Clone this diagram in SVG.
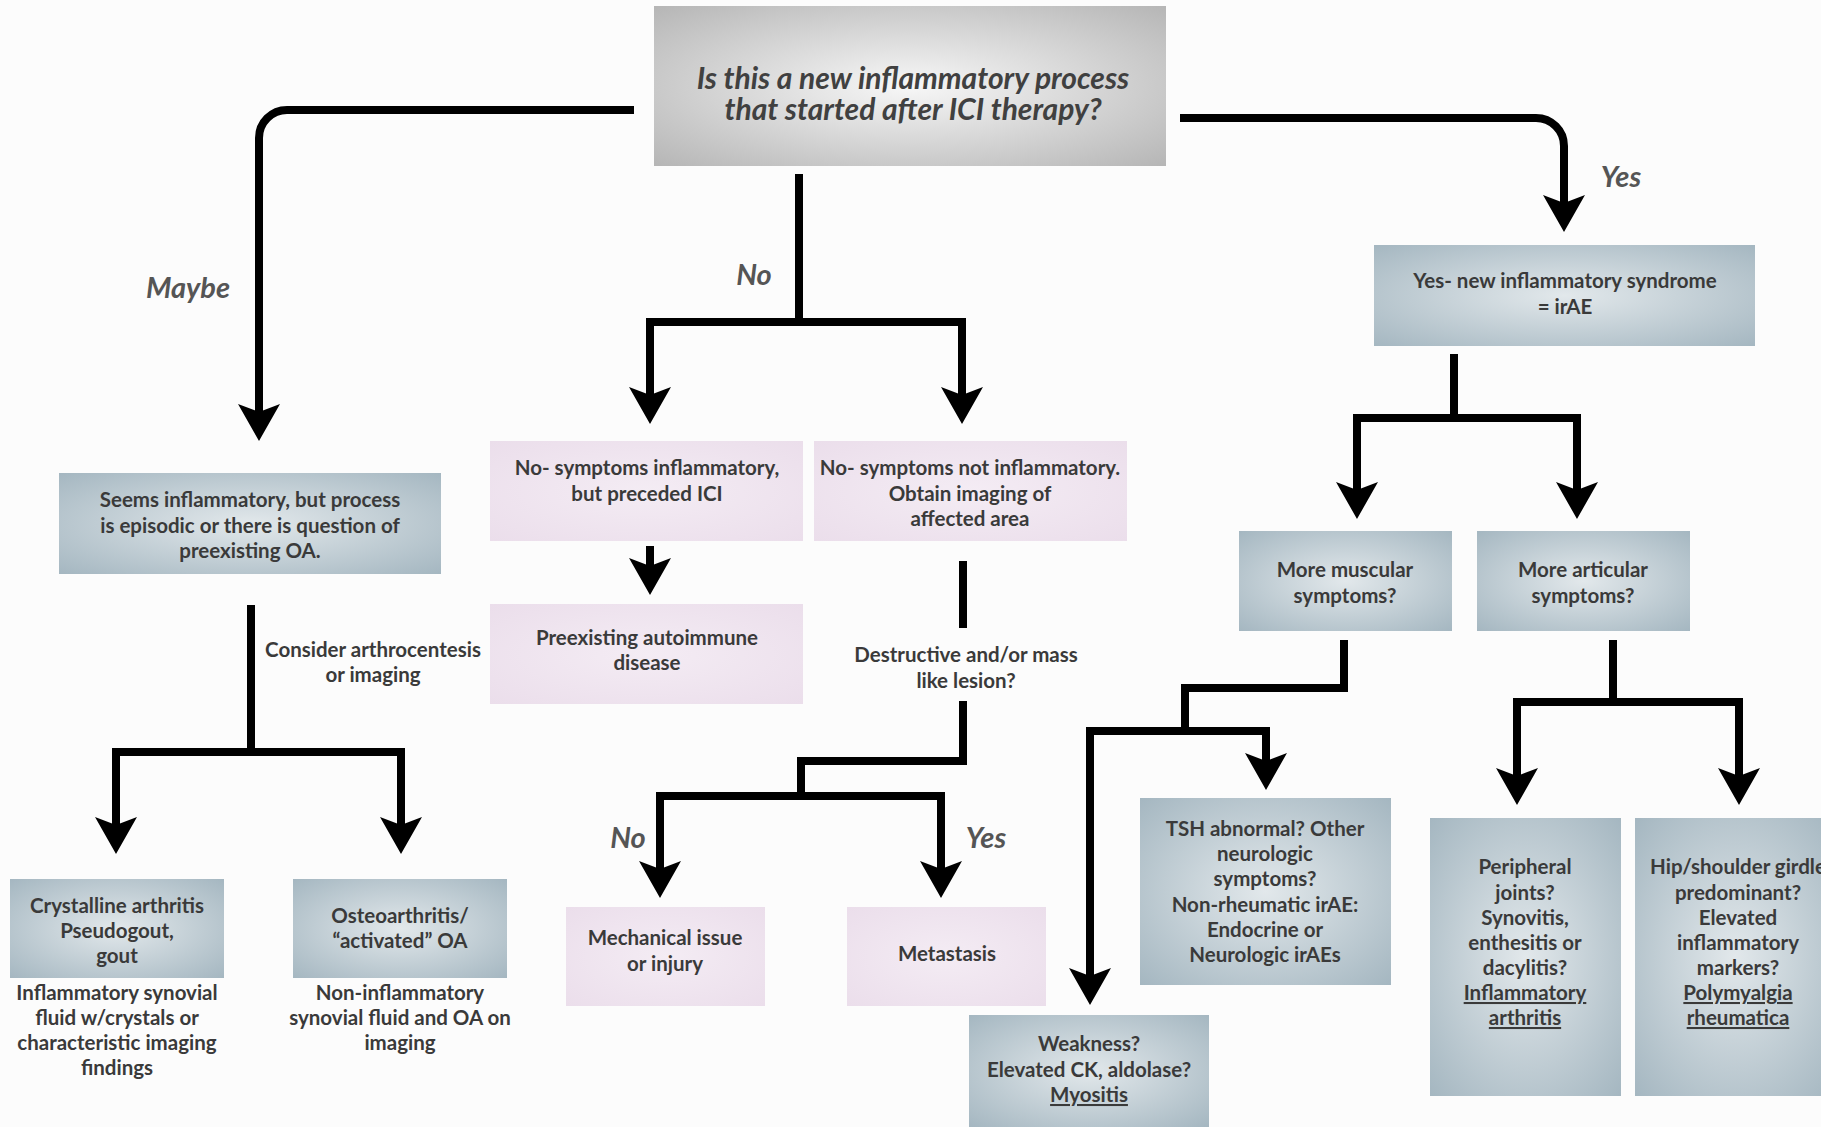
<svg xmlns="http://www.w3.org/2000/svg" width="1821" height="1127" viewBox="0 0 1821 1127">
<style>
.t{font-family:Lato,"Liberation Sans",sans-serif;font-weight:bold;font-size:20.5px;fill:#3a3a3a;text-anchor:middle}
.lbl{font-family:Lato,"Liberation Sans",sans-serif;font-weight:bold;font-style:italic;font-size:29px;fill:#555;text-anchor:middle}
.title{font-family:Lato,"Liberation Sans",sans-serif;font-weight:bold;font-style:italic;font-size:30px;fill:#404040;text-anchor:middle}
.blue{fill:url(#gBlue)}
.pink{fill:url(#gPink)}
.u{text-decoration:underline}
.c{fill:none;stroke:#000;stroke-width:8;stroke-linejoin:miter}
.ca{fill:none;stroke:#000;stroke-width:8;stroke-linejoin:miter;marker-end:url(#ah)}
.cb{fill:none;stroke:#000;stroke-width:8;stroke-linejoin:miter;marker-start:url(#ah);marker-end:url(#ah)}
</style>
<defs>
<radialGradient id="gBlue" cx="50%" cy="50%" r="70%">
<stop offset="0" stop-color="#e2e8eb"/>
<stop offset="1" stop-color="#a5b7c1"/>
</radialGradient>
<radialGradient id="gGray" cx="50%" cy="50%" r="70%">
<stop offset="0" stop-color="#f7f7f7"/>
<stop offset="1" stop-color="#b6b6b6"/>
</radialGradient>
<radialGradient id="gPink" cx="50%" cy="50%" r="70%">
<stop offset="0" stop-color="#f4ecf4"/>
<stop offset="1" stop-color="#ebdeeb"/>
</radialGradient>
<marker id="ah" markerUnits="userSpaceOnUse" markerWidth="42" markerHeight="42" refX="8" refY="21" orient="auto-start-reverse" overflow="visible">
<path d="M0,0 L37,21 L0,42 L8,21 Z" fill="#000"/>
</marker>
</defs>
<rect width="1821" height="1127" fill="#fcfcfc"/>

<g id="connectors">
<path class="ca" d="M634,110 H287 A28,28 0 0 0 259,138 V412"/>
<path class="c" d="M799,174 V322"/>
<path class="cb" d="M650,395 V322 H962 V395"/>
<path class="ca" d="M1180,118 H1536 A28,28 0 0 1 1564,146 V203"/>
<path class="c" d="M251,605 V752"/>
<path class="cb" d="M116,825 V752 H401 V825"/>
<path class="ca" d="M650,546 V566"/>
<path class="c" d="M963,561 V628"/>
<path class="c" d="M963,701 V761 H801 V796"/>
<path class="cb" d="M660,869 V796 H941 V869"/>
<path class="c" d="M1454,354 V418"/>
<path class="cb" d="M1357,490 V418 H1577 V490"/>
<path class="c" d="M1344,640 V688 H1185 V731"/>
<path class="cb" d="M1090,976 V731 H1266 V761"/>
<path class="c" d="M1613,640 V702"/>
<path class="cb" d="M1517,776 V702 H1739 V776"/>
</g>

<g id="edge-labels">
<text class="lbl" x="188" y="298">Maybe</text>
<text class="lbl" x="754" y="285">No</text>
<text class="lbl" x="1621" y="187">Yes</text>
<text class="lbl" x="628" y="848">No</text>
<text class="lbl" x="986" y="848">Yes</text>
<text class="t" x="373" y="657">Consider arthrocentesis</text>
<text class="t" x="373" y="682">or imaging</text>
<text class="t" x="966" y="662">Destructive and/or mass</text>
<text class="t" x="966" y="688">like lesion?</text>
</g>

<g id="node-question">
<rect x="654" y="6" width="512" height="160" fill="url(#gGray)"/>
<text class="title" x="913" y="89">Is this a new inflammatory process<tspan x="913" y="120">that started after ICI therapy?</tspan></text>
</g>

<g id="node-maybe">
<rect class="blue" x="59" y="473" width="382" height="101"/>
<text class="t" x="250" y="507">Seems inflammatory, but process</text>
<text class="t" x="250" y="533">is episodic or there is question of</text>
<text class="t" x="250" y="558">preexisting OA.</text>
</g>

<g id="node-crystalline">
<rect class="blue" x="10" y="879" width="214" height="99"/>
<text class="t" x="117" y="913">Crystalline arthritis</text>
<text class="t" x="117" y="938">Pseudogout,</text>
<text class="t" x="117" y="963">gout</text>
<text class="t" x="117" y="1000">Inflammatory synovial</text>
<text class="t" x="117" y="1025">fluid w/crystals or</text>
<text class="t" x="117" y="1050">characteristic imaging</text>
<text class="t" x="117" y="1075">findings</text>
</g>

<g id="node-osteo">
<rect class="blue" x="293" y="879" width="214" height="99"/>
<text class="t" x="400" y="923">Osteoarthritis/</text>
<text class="t" x="400" y="948">“activated” OA</text>
<text class="t" x="400" y="1000">Non-inflammatory</text>
<text class="t" x="400" y="1025">synovial fluid and OA on</text>
<text class="t" x="400" y="1050">imaging</text>
</g>

<g id="node-no-inflam">
<rect class="pink" x="490" y="441" width="313" height="100"/>
<text class="t" x="647" y="475">No- symptoms inflammatory,</text>
<text class="t" x="647" y="501">but preceded ICI</text>
</g>

<g id="node-no-notinflam">
<rect class="pink" x="814" y="441" width="313" height="100"/>
<text class="t" x="970" y="475">No- symptoms not inflammatory.</text>
<text class="t" x="970" y="501">Obtain imaging of</text>
<text class="t" x="970" y="526">affected area</text>
</g>

<g id="node-preexisting">
<rect class="pink" x="490" y="604" width="313" height="100"/>
<text class="t" x="647" y="645">Preexisting autoimmune</text>
<text class="t" x="647" y="670">disease</text>
</g>

<g id="node-mechanical">
<rect class="pink" x="566" y="907" width="199" height="99"/>
<text class="t" x="665" y="945">Mechanical issue</text>
<text class="t" x="665" y="971">or injury</text>
</g>

<g id="node-metastasis">
<rect class="pink" x="847" y="907" width="199" height="99"/>
<text class="t" x="947" y="961">Metastasis</text>
</g>

<g id="node-yes">
<rect class="blue" x="1374" y="245" width="381" height="101"/>
<text class="t" x="1565" y="288">Yes- new inflammatory syndrome</text>
<text class="t" x="1565" y="314">= irAE</text>
</g>

<g id="node-muscular">
<rect class="blue" x="1239" y="531" width="213" height="100"/>
<text class="t" x="1345" y="577">More muscular</text>
<text class="t" x="1345" y="603">symptoms?</text>
</g>

<g id="node-articular">
<rect class="blue" x="1477" y="531" width="213" height="100"/>
<text class="t" x="1583" y="577">More articular</text>
<text class="t" x="1583" y="603">symptoms?</text>
</g>

<g id="node-tsh">
<rect class="blue" x="1140" y="798" width="251" height="187"/>
<text class="t" x="1265" y="836">TSH abnormal? Other</text>
<text class="t" x="1265" y="861">neurologic</text>
<text class="t" x="1265" y="886">symptoms?</text>
<text class="t" x="1265" y="912">Non-rheumatic irAE:</text>
<text class="t" x="1265" y="937">Endocrine or</text>
<text class="t" x="1265" y="962">Neurologic irAEs</text>
</g>

<g id="node-weakness">
<rect class="blue" x="969" y="1015" width="240" height="112"/>
<text class="t" x="1089" y="1051">Weakness?</text>
<text class="t" x="1089" y="1077">Elevated CK, aldolase?</text>
<text class="t u" x="1089" y="1102">Myositis</text>
</g>

<g id="node-peripheral">
<rect class="blue" x="1430" y="818" width="191" height="278"/>
<text class="t" x="1525" y="874">Peripheral</text>
<text class="t" x="1525" y="900">joints?</text>
<text class="t" x="1525" y="925">Synovitis,</text>
<text class="t" x="1525" y="950">enthesitis or</text>
<text class="t" x="1525" y="975">dacylitis?</text>
<text class="t u" x="1525" y="1000">Inflammatory</text>
<text class="t u" x="1525" y="1025">arthritis</text>
</g>

<g id="node-hip">
<rect class="blue" x="1635" y="818" width="200" height="278"/>
<text class="t" x="1738" y="874">Hip/shoulder girdle</text>
<text class="t" x="1738" y="900">predominant?</text>
<text class="t" x="1738" y="925">Elevated</text>
<text class="t" x="1738" y="950">inflammatory</text>
<text class="t" x="1738" y="975">markers?</text>
<text class="t u" x="1738" y="1000">Polymyalgia</text>
<text class="t u" x="1738" y="1025">rheumatica</text>
</g>
</svg>
